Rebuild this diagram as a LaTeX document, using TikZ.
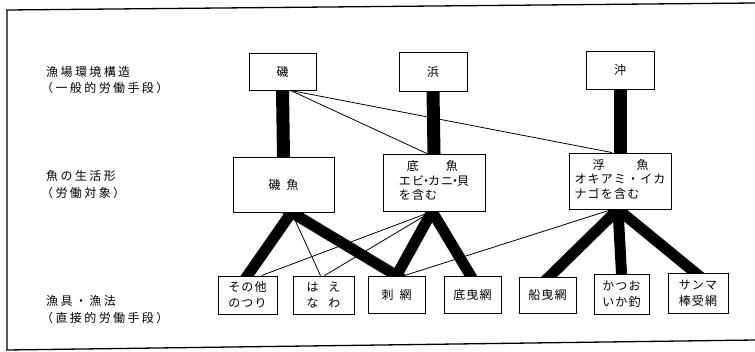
\documentclass[tikz,border=0pt]{standalone}
\usepackage{fontspec}
\newfontfamily\jp[LetterSpace=10]{Noto Sans CJK JP}
\newfontfamily\jpl[LetterSpace=20]{Noto Sans CJK JP}
\usetikzlibrary{backgrounds}
\newcommand\nd{\makebox[4pt][c]{・}}
\tikzset{
  box/.style={draw, line width=0.9pt, fill=white, inner sep=0pt, align=center,
    font=\jp\fontsize{12}{16}\selectfont},
  lab/.style={anchor=west, align=left, inner sep=0pt,
    font=\jpl\fontsize{12}{16.5}\selectfont},
  bar/.style={line width=13pt, shorten <=-4pt, shorten >=-4pt},
  thickln/.style={line width=11pt, shorten <=-7pt, shorten >=-7pt},
  thinln/.style={line width=0.8pt},
  frameln/.style={line width=1.3pt}
}
\begin{document}
\begin{tikzpicture}[x=1pt,y=-1pt]
\useasboundingbox (0,0) rectangle (755,351);
% frame (open on the right)
\draw[frameln] (755,3) -- (7,10) -- (7,350) -- (755,340);
% left labels
\node[lab] (l1) at (46,80) {漁場環境構造\\\hspace*{-5pt}（一般的労働手段）};
\node[lab] (l2) at (46,184.5) {魚の生活形\\\hspace*{-5pt}（労働対象）};
\node[lab] (l3) at (46,309.5) {漁具・漁法\\\hspace*{-5pt}（直接的労働手段）};
% top row
\node[box, minimum width=67pt, minimum height=37pt] (iso) at (282.5,71.5) {磯};
\node[box, minimum width=68pt, minimum height=39pt] (hama) at (433,71.5) {浜};
\node[box, minimum width=68pt, minimum height=38pt] (oki) at (620,70) {沖};
% middle row
\node[box, minimum width=101pt, minimum height=55pt] (isogyo) at (283.5,184.5) {磯\hspace{6pt}魚};
\node[box, minimum width=102pt, minimum height=57pt] (teigyo) at (434,182.5)
  {\raisebox{5pt}{\fontsize{12}{14.5}\selectfont\begin{tabular}{@{}l@{}}\hspace*{8pt}底\hspace{27pt}魚\\エビ\nd カニ\nd 貝\\を含む\end{tabular}}};
\node[box, minimum width=102pt, minimum height=56pt] (fugyo) at (620,181)
  {\raisebox{4pt}{\fontsize{12}{14.5}\selectfont\begin{tabular}{@{}l@{}}\hspace*{18pt}浮\hspace{32pt}魚\\オキアミ・イカ\\ナゴを含む\end{tabular}}};
% bottom row
\node[box, minimum width=59pt, minimum height=38pt] (sonota) at (247.5,295) {その他\\のつり};
\node[box, minimum width=61pt, minimum height=38pt] (haenawa) at (323.5,295) {は\hspace{10pt}え\\な\hspace{10pt}わ};
\node[box, minimum width=57pt, minimum height=37pt] (sashiami) at (396.5,294.5) {刺\hspace{6pt}網};
\node[box, minimum width=57pt, minimum height=37pt] (sokobiki) at (472.5,294.5) {底曳網};
\node[box, minimum width=57pt, minimum height=36pt] (funabiki) at (547.5,295) {船曳網};
\node[box, minimum width=55pt, minimum height=40pt] (katsuo) at (621.5,294) {かつお\\いか釣};
\node[box, minimum width=60pt, minimum height=40pt] (sanma) at (698,293) {サンマ\\棒受網};
% connectors
\begin{scope}[on background layer]
  \draw[bar] (iso.south) -- (isogyo.north);
  \draw[bar] (hama.south) -- (teigyo.north);
  \draw[bar] (oki.south) -- (fugyo.north);
  \draw[thinln] ([xshift=8pt]iso.south) -- ([xshift=-7pt]teigyo.north);
  \draw[thinln] ([xshift=8pt]iso.south) -- ([xshift=-8pt]fugyo.north);
  % from 磯魚
  \draw[thickln] ([xshift=8pt]isogyo.south) -- (sonota.north);
  \draw[thickln] ([xshift=8pt]isogyo.south) -- (sashiami.north);
  \draw[thinln] ([xshift=8pt]isogyo.south) -- ([xshift=-3pt]haenawa.north);
  % from 底魚
  \draw[thickln] ([xshift=-2pt]teigyo.south) -- (sashiami.north);
  \draw[thickln] ([xshift=-2pt]teigyo.south) -- ([xshift=-2pt]sokobiki.north);
  \draw[thinln] ([xshift=-2pt]teigyo.south) -- ([xshift=14pt]sonota.north);
  \draw[thinln] ([xshift=-2pt]teigyo.south) -- ([xshift=1pt]haenawa.north);
  % from 浮魚
  \draw[thickln] ([xshift=-2pt]fugyo.south) -- ([xshift=2pt]funabiki.north);
  \draw[thickln] ([xshift=-2pt]fugyo.south) -- (katsuo.north);
  \draw[thickln] ([xshift=-2pt]fugyo.south) -- ([xshift=-3pt]sanma.north);
  \draw[thinln] ([xshift=-8pt]fugyo.south) -- ([xshift=8pt]sashiami.north);
\end{scope}
\end{tikzpicture}
\end{document}
